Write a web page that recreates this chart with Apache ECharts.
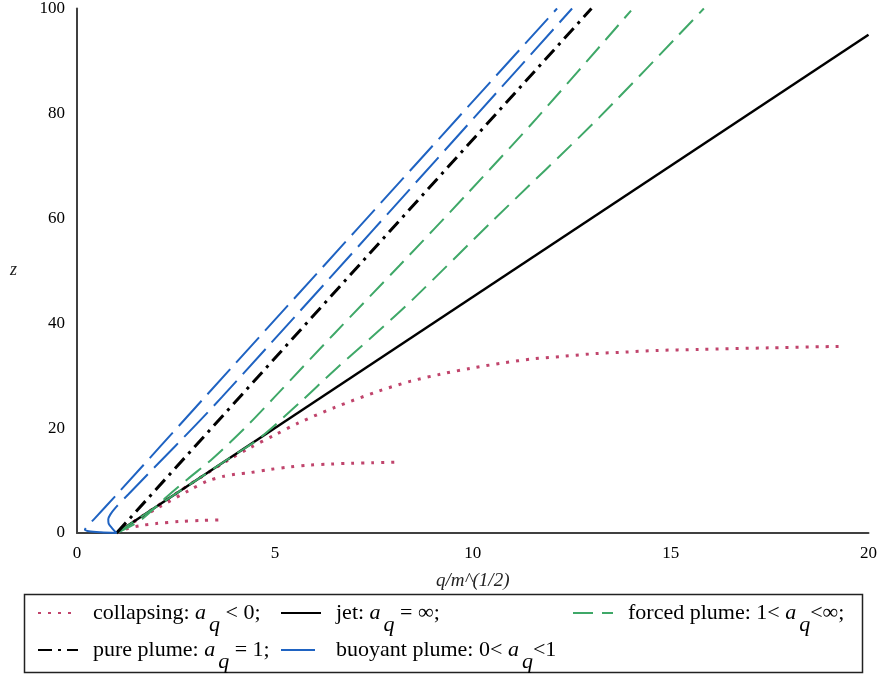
<!DOCTYPE html>
<html>
<head>
<meta charset="utf-8">
<script src="https://cdn.jsdelivr.net/npm/echarts@6/dist/echarts.min.js"></script>
<style>
html,body{margin:0;padding:0;background:#fff;}
#chart{width:880px;height:675px;}
</style>
</head>
<body>
<div id="chart"></div>
<script>
// ---- data: [q/m^(1/2), z] ----
const collapsingSmall = [[1,0],[1.26,0.8],[1.6,1.4],[2.0,1.8],[2.6,2.2],[3.2,2.4],[3.65,2.5]];
const collapsingMedium = [[1,0],[1.5,2.4],[2.09,5.0],[2.85,8.2],[3.3,9.9],[3.7,10.8],[4.0,11.2],[4.36,11.5],[4.87,12.1],[5.37,12.6],[5.88,12.95],[6.42,13.15],[6.93,13.3],[7.46,13.4],[8.1,13.5]];
const collapsingLarge = [[1,0],[2,5],[3,10],[3.8,13.8],[4.36,16.2],[5.0,18.7],[5.6,21.0],[6.5,23.9],[7.64,27.1],[8.44,28.95],[9.2,30.3],[9.95,31.4],[10.75,32.4],[11.53,33.2],[12.31,33.7],[13.1,34.2],[13.86,34.5],[14.66,34.8],[15.7,35.0],[17.5,35.3],[19.37,35.6]];
const jetLine = [[1,0],[20,95]];
const purePlume = [[1,0],[13.0,100]];
const buoyantOuter = [[1,0],[0.6,0.15],[0.3,0.35],[0.2,0.6],[0.25,1.2],[0.45,2.8],[1,7.3],[3.23,25.9],[12.13,100]];
const buoyantInner = [[1,0],[0.9,0.8],[0.8,1.8],[0.79,2.6],[0.84,3.5],[0.97,4.8],[1.3,7.4],[3.66,25.9],[12.51,100]];
const forcedUpper = [[1,0],[1.6,2.4],[2.27,6.9],[2.8,10.3],[3.43,14.2],[4.28,20.3],[4.99,25.9],[6.5,38],[8.15,51],[9.9,65],[11.63,79.2],[14.0,99.6]];
const forcedLower = [[1,0],[2,5],[3,10],[4,15],[4.6,18],[5.62,24.8],[6.5,31],[7.66,38.8],[8.48,44.5],[10.5,59.5],[13.19,79.2],[15.84,100]];
const xTicks = [0,5,10,15,20];
const yTicks = [0,20,40,60,80,100];

const names = {
  col: 'collapsing',
  jet: 'jet',
  forced: 'forced plume',
  pure: 'pure plume',
  buoy: 'buoyant plume'
};
const labelText = {
  col: '{f|collapsing: }{i|a}{s|q}{t| < 0;}',
  jet: '{f|jet: }{i|a}{s|q}{t| = ∞;}',
  forced: '{f|forced plume: 1< }{i|a}{s|q}{t|<∞;}',
  pure: '{f|pure plume: }{i|a}{s|q}{t| = 1;}',
  buoy: '{f|buoyant plume: 0< }{i|a}{s|q}{t|<1}'
};

const FONT = '"Liberation Serif", "Times New Roman", serif';
const C_COL = '#c0446c', C_BLUE = '#1f63c2', C_GREEN = '#3fa868';

const styles = {
  col: {color: C_COL, width: 3, type: [3, 7]},
  jet: {color: '#000', width: 2.5, type: 'solid'},
  pure: {color: '#000', width: 3, type: [14, 6, 3, 6]},
  buoy: {color: C_BLUE, width: 2, type: [34, 9]},
  forced: {color: C_GREEN, width: 2, type: [20, 9]}
};

function line(key, data, smooth) {
  return {
    name: names[key], type: 'line', data: data, showSymbol: false, symbol: 'none',
    smooth: smooth, color: styles[key].color, lineStyle: Object.assign({cap: 'butt'}, styles[key]),
    silent: true, animation: false, z: 2
  };
}

const LFS = 22;
const rich = {
  f: {fontFamily: FONT, fontSize: LFS, color: '#000', padding: [0, 0, 0, 10]},
  t: {fontFamily: FONT, fontSize: LFS, color: '#000'},
  i: {fontFamily: FONT, fontSize: LFS, fontStyle: 'italic', color: '#000'},
  s: {fontFamily: FONT, fontSize: LFS, fontStyle: 'italic', color: '#000', padding: [24, 0, 0, 3]}
};

function legendAt(key, left, top) {
  return {
    data: [names[key]], left: left, top: top, padding: 0, itemWidth: 40, itemHeight: 14,
    selectedMode: false,
    itemStyle: {color: 'rgba(0,0,0,0)', borderColor: 'rgba(0,0,0,0)', borderWidth: 0, opacity: 0},
    formatter: function () { return labelText[key]; },
    textStyle: {rich: rich, fontFamily: FONT, fontSize: LFS, color: '#000'}
  };
}

const chart = echarts.init(document.getElementById('chart'), null, {renderer: 'canvas'});
chart.setOption({
  backgroundColor: '#fff',
  animation: false,
  grid: {left: 77, right: 10, top: 8, bottom: 142, containLabel: false},
  xAxis: {
    type: 'value', min: xTicks[0], max: xTicks[xTicks.length - 1], interval: 5,
    name: 'q/m^(1/2)', nameLocation: 'middle', nameGap: 38,
    nameTextStyle: {fontFamily: FONT, fontSize: 19, fontStyle: 'italic', color: '#222'},
    axisLine: {lineStyle: {color: '#404040', width: 2}},
    axisTick: {show: false}, splitLine: {show: false},
    axisLabel: {fontFamily: FONT, fontSize: 17, color: '#000', margin: 12}
  },
  yAxis: {
    type: 'value', min: yTicks[0], max: yTicks[yTicks.length - 1], interval: 20,
    name: 'z', nameLocation: 'middle', nameGap: 60, nameRotate: 0,
    nameTextStyle: {fontFamily: FONT, fontSize: 18, fontStyle: 'italic', color: '#222'},
    axisLine: {show: true, lineStyle: {color: '#404040', width: 2}},
    axisTick: {show: false}, splitLine: {show: false},
    axisLabel: {fontFamily: FONT, fontSize: 17, color: '#000', margin: 12}
  },
  legend: [
    legendAt('col', 37, 602),
    legendAt('jet', 280, 602),
    legendAt('forced', 572, 602),
    legendAt('pure', 37, 639),
    legendAt('buoy', 280, 639)
  ],
  graphic: [{
    type: 'rect', left: 22, top: 592, silent: true,
    shape: {width: 838, height: 78},
    style: {fill: 'none', stroke: '#222', lineWidth: 1.5}
  }],
  series: [
    line('col', collapsingSmall, 0.3),
    line('col', collapsingMedium, 0.3),
    line('col', collapsingLarge, 0.3),
    line('jet', jetLine, false),
    line('forced', forcedUpper, 0.3),
    line('forced', forcedLower, 0.3),
    line('pure', purePlume, false),
    line('buoy', buoyantOuter, 0.3),
    line('buoy', buoyantInner, 0.3)
  ]
});
</script>
</body>
</html>
